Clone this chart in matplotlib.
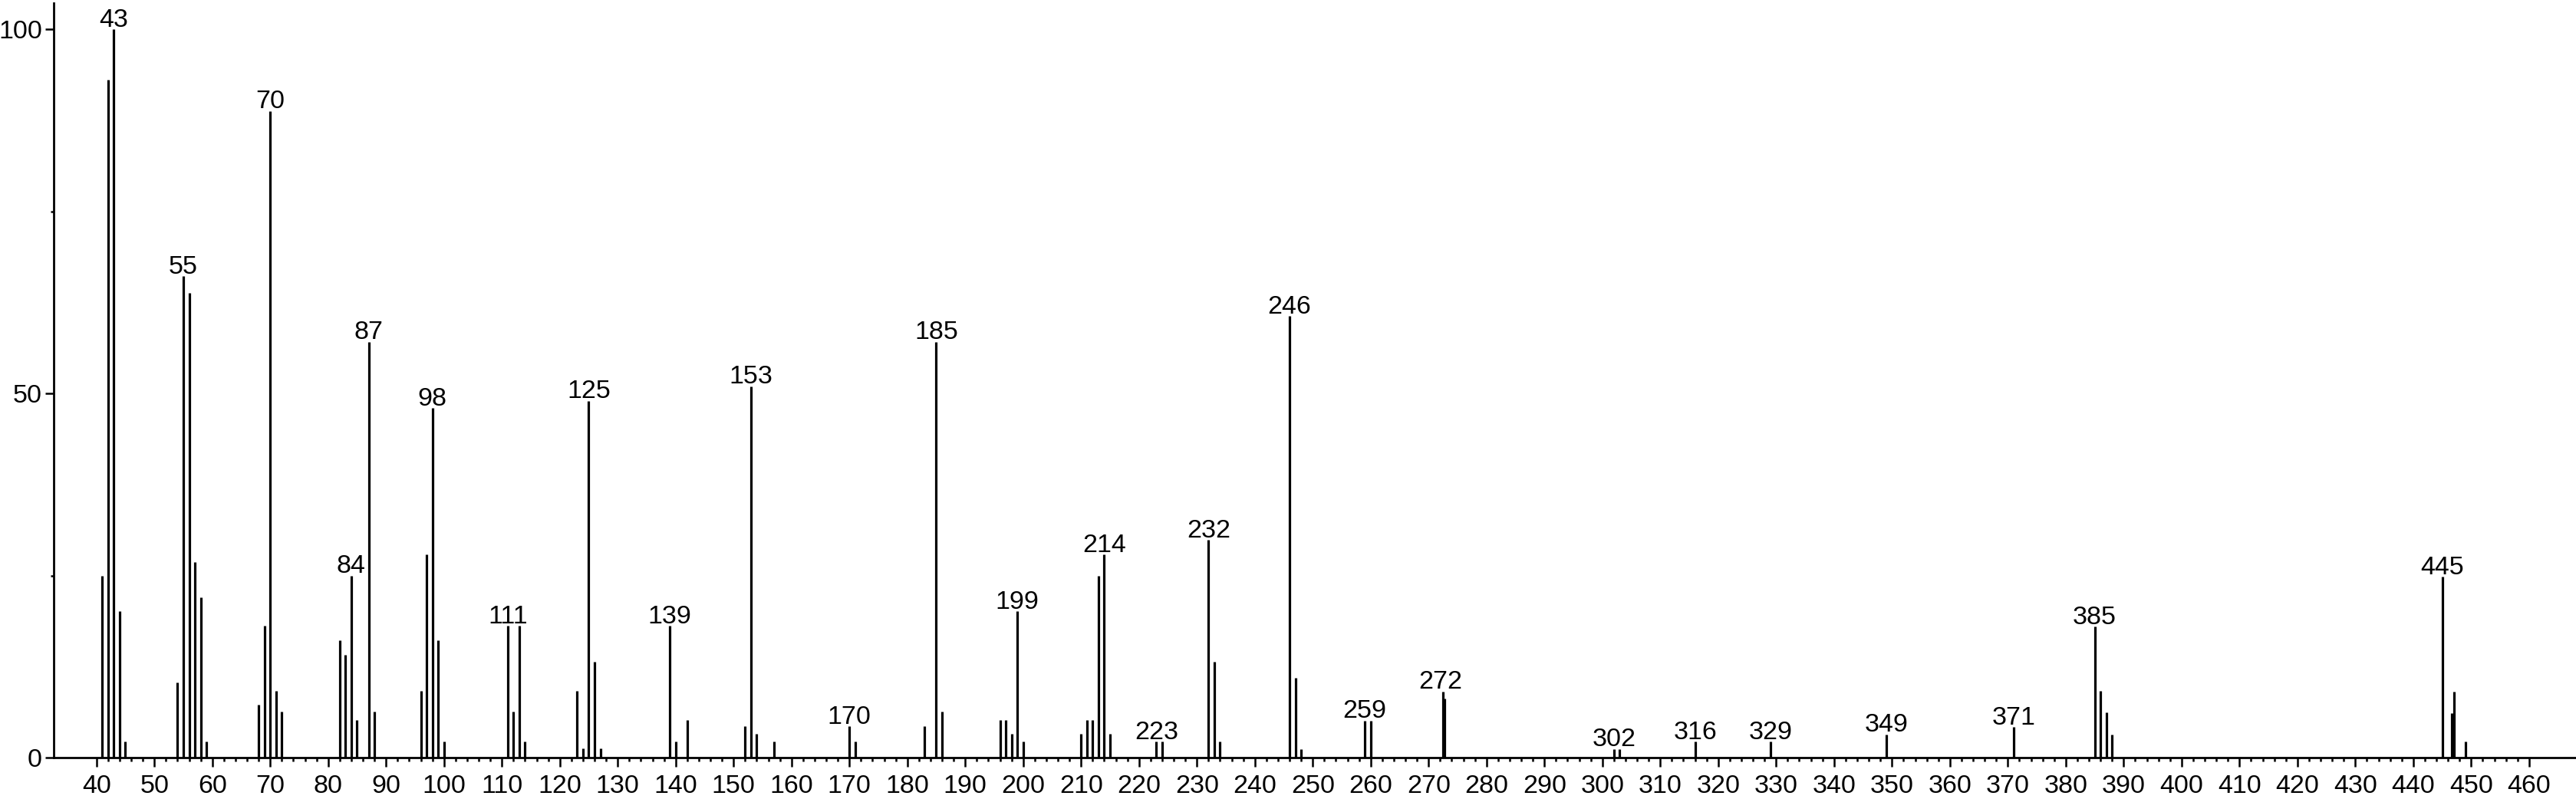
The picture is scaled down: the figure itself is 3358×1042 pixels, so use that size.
import matplotlib
matplotlib.use("Agg")
from matplotlib import pyplot as plt

plt.rcParams['font.family'] = ['Liberation Sans', 'DejaVu Sans']

# m/z and relative intensity
mz = [41, 42, 43, 44, 45,
      54, 55, 56, 57, 58, 59,
      68, 69, 70, 71, 72,
      82, 83, 84, 85, 87, 88,
      96, 97, 98, 99, 100,
      111, 112, 113, 114,
      123, 124, 125, 126, 127,
      139, 140, 142,
      152, 153, 154, 157,
      170, 171, 183, 185, 186,
      196, 197, 198, 199, 200,
      210, 211, 212, 213, 214, 215,
      223, 224, 232, 233, 234,
      246, 247, 248, 259, 260, 272.5, 272.8,
      302, 303, 316, 329, 349, 371,
      385, 386, 387, 388,
      445, 446.6, 447, 449]
intensity = [25.0, 93.1, 100, 20.1, 2.2,
             10.3, 66.1, 63.8, 26.9, 22.0, 2.2,
             7.3, 18.1, 88.8, 9.2, 6.3,
             16.1, 14.1, 25.0, 5.2, 57.1, 6.3,
             9.2, 27.9, 48.0, 16.1, 2.2,
             18.1, 6.3, 18.1, 2.2,
             9.2, 1.3, 49.0, 13.2, 1.3,
             18.1, 2.2, 5.2,
             4.3, 51.0, 3.3, 2.2,
             4.3, 2.2, 4.3, 57.1, 6.3,
             5.2, 5.2, 3.3, 20.1, 2.2,
             3.3, 5.2, 5.2, 25.0, 27.9, 3.3,
             2.2, 2.2, 29.9, 13.2, 2.2,
             60.6, 11.0, 1.2, 5.1, 5.1, 9.1, 8.1,
             1.2, 1.2, 2.2, 2.2, 3.2, 4.2,
             18.0, 9.2, 6.2, 3.2,
             24.8, 6.1, 9.1, 2.2]

# annotated peaks
labels = [43, 55, 70, 84, 87, 98, 111, 125, 139, 153, 170, 185, 199,
          214, 223, 232, 246, 259, 272, 302, 316, 329, 349, 371, 385, 445]

W, H = 3358, 1042
fig = plt.figure(figsize=(W / 100, H / 100), dpi=100)
ax = fig.add_axes([69.6 / W, 54 / H, 1 - 69.6 / W, 984 / H])

ax.vlines(mz, 0, intensity, colors='black', linewidth=2.3)

for m in labels:
    near = [i for x, i in zip(mz, intensity) if abs(x - m) < 1]
    ax.annotate(str(m), xy=(m, max(near)), xytext=(0, 2.5),
                textcoords='offset points', ha='center', va='baseline',
                fontsize=24.5, clip_on=False)

ax.set_xlim(32.57, 468.1)
ax.set_ylim(0, 103.6)

ax.set_xticks(range(40, 461, 10))
ax.set_xticks([x for x in range(42, 460, 2) if x % 10], minor=True)
ax.set_yticks([0, 50, 100])
ax.set_yticks([25, 75], minor=True)

ax.tick_params(axis='x', which='major', length=8.6, width=1.8, pad=7, labelsize=24.5)
ax.tick_params(axis='x', which='minor', length=3.8, width=1.8)
ax.tick_params(axis='y', which='major', length=8, width=1.8, pad=2.5, labelsize=24.5)
ax.tick_params(axis='y', which='minor', length=3, width=1.8)

for side in ['top', 'right']:
    ax.spines[side].set_visible(False)
for side in ['left', 'bottom']:
    ax.spines[side].set_linewidth(2.0)

fig.savefig('out.png', dpi=100)
